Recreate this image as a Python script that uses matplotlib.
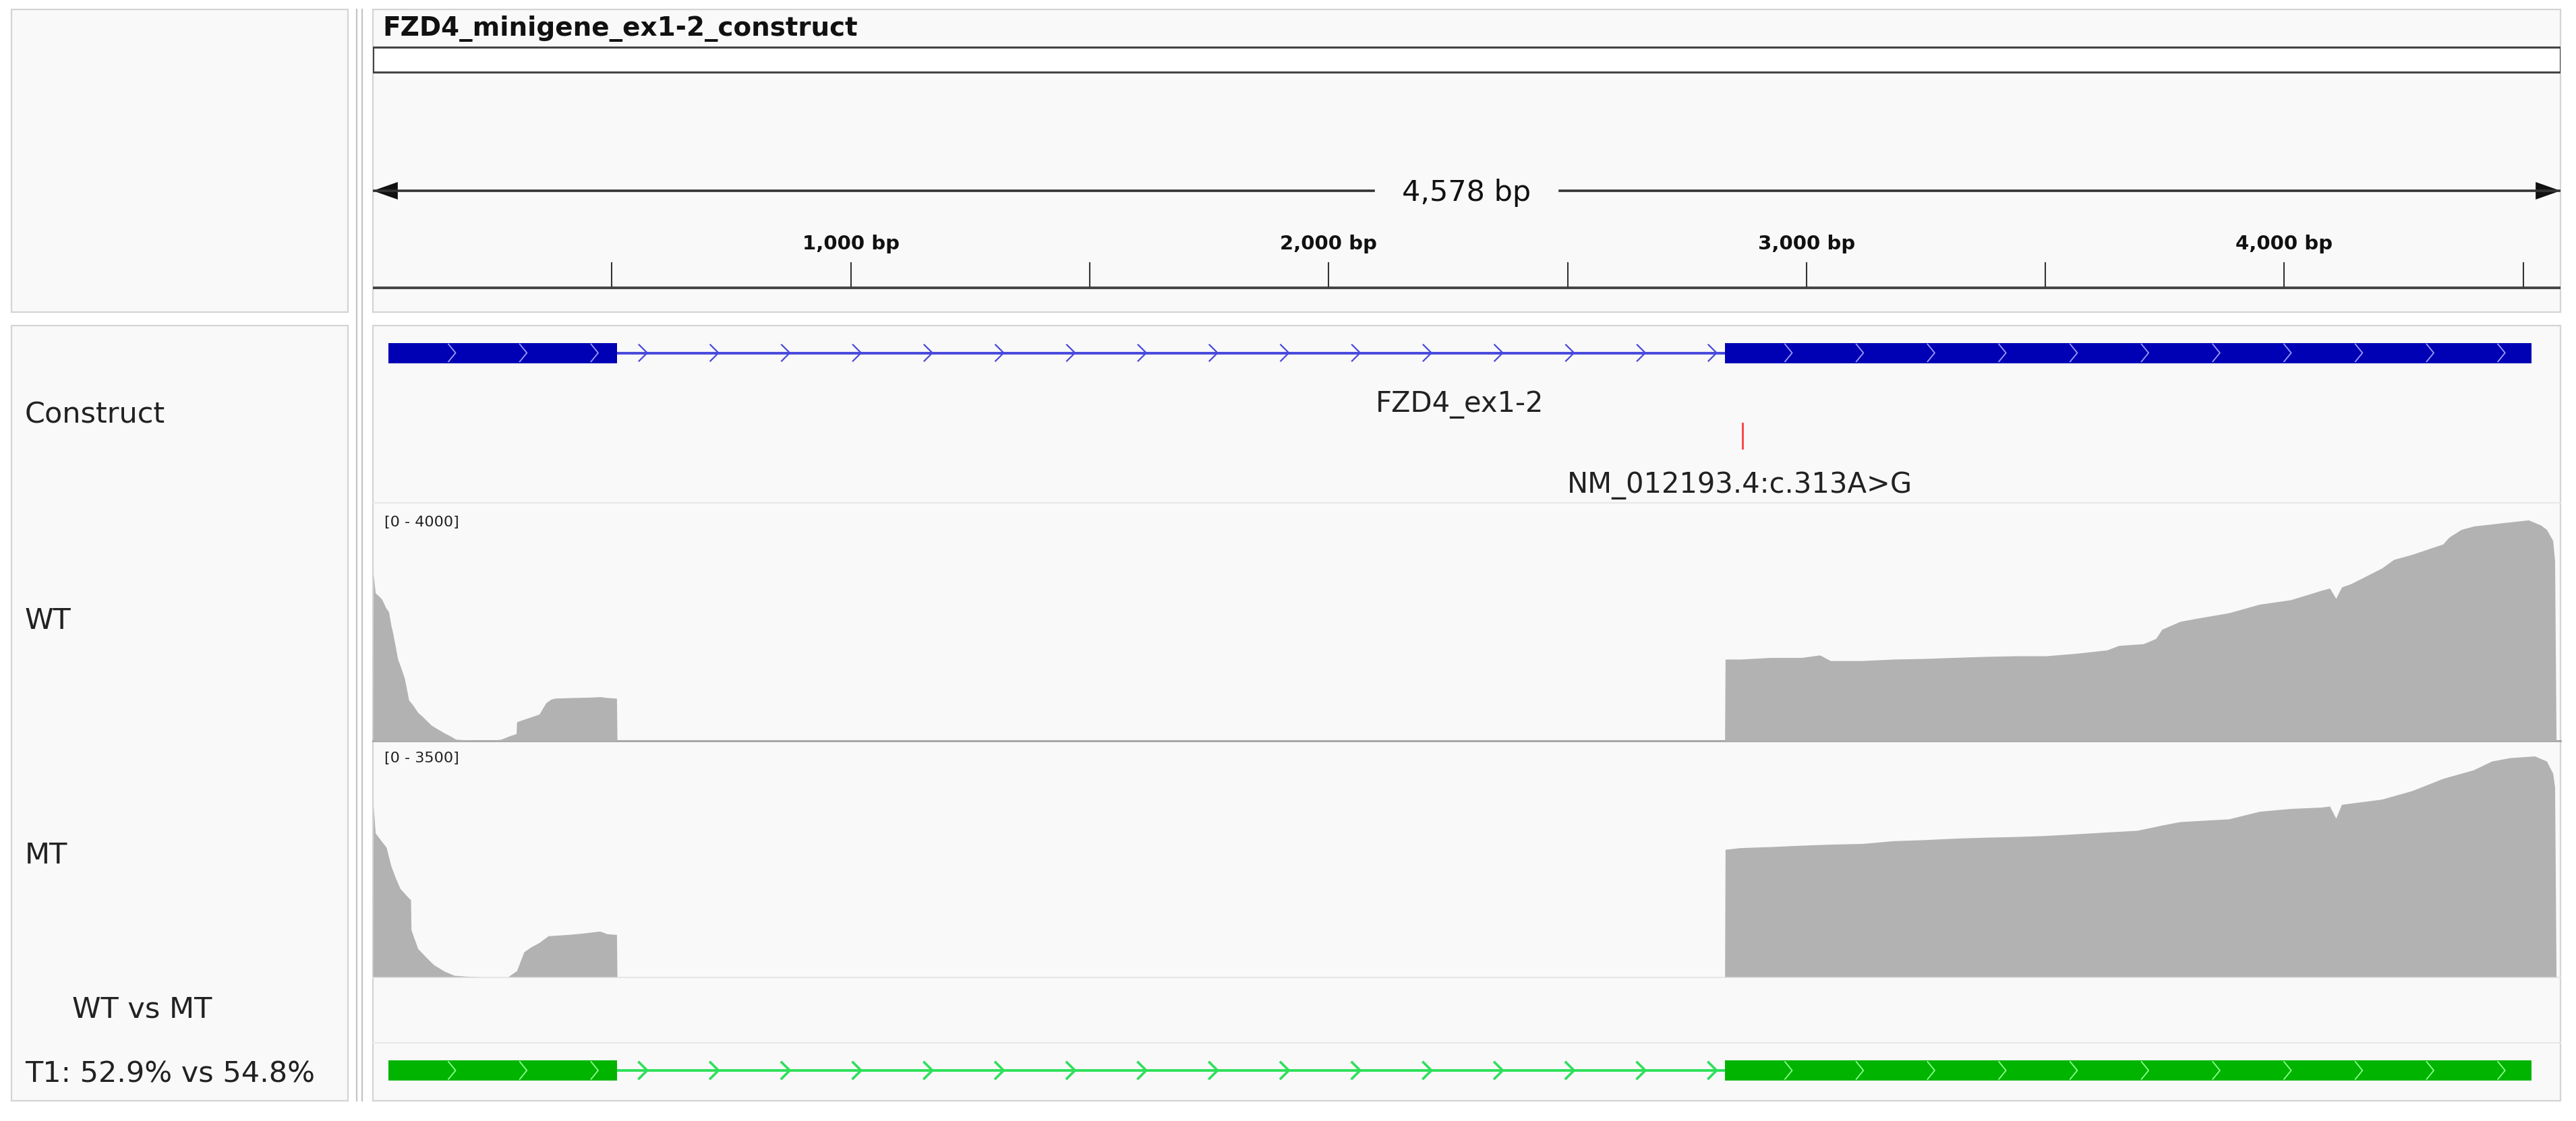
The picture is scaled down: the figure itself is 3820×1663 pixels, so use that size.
import numpy as np
import matplotlib
matplotlib.use('Agg')
import matplotlib.pyplot as plt
from matplotlib.patches import Rectangle

plt.rcParams['font.family'] = ['DejaVu Sans']

W, H = 3820, 1663
REGION_LEN = 4578

# gene model of the construct (bp)
EXONS = [(32, 511), (2829, 4517)]
GENE_NAME = 'FZD4_ex1-2'
VARIANT_POS = 2866
VARIANT_NAME = 'NM_012193.4:c.313A>G'
SEQ_NAME = 'FZD4_minigene_ex1-2_construct'

RULER_TICKS = [500, 1000, 1500, 2000, 2500, 3000, 3500, 4000, 4500]
RULER_LABELS = ['', '1,000 bp', '', '2,000 bp', '', '3,000 bp', '', '4,000 bp', '']

TRACK_NAMES = ['Construct', 'WT', 'MT', 'WT vs MT', 'T1: 52.9% vs 54.8%']
WT_RANGE = 4000
MT_RANGE = 3500

# coverage (bp, depth)
WT_POS = [0, 1, 5, 12, 19, 27, 33, 38, 42, 47, 52, 58, 66, 70, 75, 84, 94, 105, 122, 135, 150,
          162, 174, 200, 231, 250, 268, 285, 300, 301, 315, 330, 348, 356, 362, 372, 381, 420, 450,
          475, 490, 508, 510, 511,
          2829, 2830, 2862, 2925, 2990, 3028, 3050, 3117, 3182, 3245, 3309, 3373, 3437, 3501,
          3565, 3629, 3654, 3705, 3731, 3744, 3782, 3821, 3884, 3948, 4013, 4077, 4095, 4108,
          4120, 4140, 4204, 4229, 4268, 4332, 4345, 4370, 4396, 4459, 4511, 4537, 4549, 4562,
          4566, 4569]
WT_COV = [0, 2820, 2500, 2450, 2390, 2250, 2180, 1950, 1810, 1600, 1380, 1250, 1060, 900, 690, 600,
          480, 400, 265, 200, 130, 80, 25, 12, 5, 10, 25, 80, 120, 320, 360, 400, 450, 560, 640, 700,
          720, 730, 735, 745, 730, 720, 720, 0,
          0, 1380, 1380, 1408, 1408, 1450, 1355, 1355, 1380, 1390, 1408, 1425, 1436, 1436, 1478,
          1535, 1611, 1640, 1727, 1885, 2018, 2076, 2163, 2308, 2383, 2541, 2581, 2407, 2599,
          2657, 2919, 3064, 3152, 3326, 3443, 3571, 3629, 3687, 3733, 3646, 3571, 3385, 3035,
          0]

MT_POS = [0, 1, 5, 15, 28, 38, 47, 57, 75, 79, 80, 94, 110, 127, 150, 170, 200, 231, 283, 301, 316,
          330, 348, 367, 410, 440, 475, 490, 508, 510, 511,
          2829, 2830, 2862, 2925, 2990, 3054, 3117, 3182, 3245, 3309, 3373, 3437, 3501, 3565,
          3629, 3692, 3744, 3782, 3884, 3948, 4013, 4077, 4095, 4108, 4120, 4204, 4268, 4332,
          4396, 4434, 4472, 4524, 4549, 4562, 4566, 4569]
MT_COV = [0, 2550, 2145, 2050, 1930, 1650, 1480, 1315, 1175, 1150, 700, 420, 300, 180, 80, 20, 5, 0, 0,
          90, 370, 440, 510, 610, 630, 650, 680, 640, 630, 630, 0,
          0, 1900, 1925, 1940, 1961, 1977, 1987, 2028, 2043, 2065, 2080, 2090, 2106, 2131,
          2158, 2183, 2261, 2313, 2354, 2467, 2509, 2529, 2545, 2364, 2571, 2648, 2777, 2958,
          3086, 3216, 3267, 3293, 3216, 3035, 2828, 0]

fig = plt.figure(figsize=(W / 100, H / 100), dpi=100)
fig.patch.set_facecolor('white')

bg = fig.add_axes([0, 0, 1, 1])
bg.set_xlim(0, W)
bg.set_ylim(H, 0)
bg.axis('off')


def px_axes(x0, y0, x1, y1):
    ax = fig.add_axes([x0 / W, 1 - y1 / H, (x1 - x0) / W, (y1 - y0) / H])
    ax.patch.set_visible(False)
    ax.axis('off')
    ax.set_xlim(0, REGION_LEN)
    return ax


def panel(x0, y0, x1, y1):
    bg.add_patch(Rectangle((x0, y0), x1 - x0, y1 - y0, facecolor='#f9f9f9',
                           edgecolor='#d4d4d4', lw=1.6))


DX0, DX1 = 553, 3797
panel(17, 14, 516, 463)
panel(DX0, 14, DX1, 463)
panel(17, 483, 516, 1633)
panel(DX0, 483, DX1, 1633)
for xs in (529, 537):
    bg.plot([xs, xs], [14, 1633], color='#c4c4c4', lw=1.6)

# track separators
bg.plot([DX0, DX1], [746, 746], color='#e8e8e8', lw=1.5)
bg.plot([DX0, DX1], [1099, 1099], color='#a8a8a8', lw=2.2)
bg.plot([DX0, DX1], [1450, 1450], color='#e6e6e6', lw=1.5)
bg.plot([DX0, DX1], [1547, 1547], color='#e8e8e8', lw=1.5)

# ---- ruler ----
ruler = px_axes(DX0, 14, DX1, 463)
ruler.set_ylim(463, 14)
ruler.text(20, 43, SEQ_NAME, fontsize=28, fontweight='bold', ha='left', va='center',
           color='#111111')
ruler.add_patch(Rectangle((0, 70), REGION_LEN, 37, facecolor='white', edgecolor='#444444',
                          lw=2.2))
mid = REGION_LEN / 2
ruler.plot([0, mid - 195], [283, 283], color='#333333', lw=2.6)
ruler.plot([mid + 195, REGION_LEN], [283, 283], color='#333333', lw=2.6)
ruler.fill([0, 52, 52], [283, 270, 296], color='#111111', lw=0)
ruler.fill([REGION_LEN, REGION_LEN - 52, REGION_LEN - 52], [283, 270, 296], color='#111111', lw=0)
ruler.text(mid, 286, f'{REGION_LEN:,} bp', fontsize=31, ha='center', va='center', color='#111111')
ruler.plot([0, REGION_LEN], [427, 427], color='#444444', lw=2.8)
for t, lab in zip(RULER_TICKS, RULER_LABELS):
    ruler.plot([t, t], [390, 425], color='#333333', lw=1.5)
    if lab:
        ruler.text(t, 362, lab, fontsize=21, fontweight='bold', ha='center', va='center',
                   color='#111111')


# ---- gene tracks ----
def draw_gene(ax, y_mid, half_h, exon_color, line_color, chev_color, line_chev_lw):
    ax.broken_barh([(s, e - s) for s, e in EXONS], (y_mid - half_h, 2 * half_h),
                   facecolors=exon_color, edgecolor='none')
    for (s0, e0), (s1, e1) in zip(EXONS[:-1], EXONS[1:]):
        ax.plot([e0, s1], [y_mid, y_mid], color=line_color, lw=2.8, solid_capstyle='butt')
        for c in np.arange(e0 + 63, s1 - 10, 149.2):
            ax.plot([c - 17, c, c - 17], [y_mid - half_h + 3, y_mid, y_mid + half_h - 3],
                    color=line_color, lw=line_chev_lw)
    for s, e in EXONS:
        for c in np.arange(s + 141, e - 10, 149.2):
            ax.plot([c - 15, c, c - 15], [y_mid - half_h + 2, y_mid, y_mid + half_h - 2],
                    color=chev_color, lw=1.3)


construct = px_axes(DX0, 483, DX1, 746)
construct.set_ylim(746, 483)
draw_gene(construct, 523.5, 15, '#0000b4', '#4848dc', '#9a9aff', 1.6)
construct.text((EXONS[0][0] + EXONS[-1][1]) / 2, 600, GENE_NAME, fontsize=30, ha='center',
               va='center', color='#222222')
construct.plot([VARIANT_POS, VARIANT_POS], [628, 665], color='#ff3b3b', lw=2)
construct.text(VARIANT_POS - 6, 720, VARIANT_NAME, fontsize=30, ha='center', va='center',
               color='#222222')

green = px_axes(DX0, 1547, DX1, 1633)
green.set_ylim(1633, 1547)
draw_gene(green, 1588, 15, '#00b400', '#2ee05a', '#8cff8c', 2.6)

# ---- coverage tracks ----
wt = px_axes(DX0, 748, DX1, 1099)
wt.set_ylim(0, WT_RANGE)
wt.fill_between(WT_POS, WT_COV, color='#b2b2b2', lw=0)

mt = px_axes(DX0, 1101, DX1, 1449)
mt.set_ylim(0, MT_RANGE)
mt.fill_between(MT_POS, MT_COV, color='#b2b2b2', lw=0)

bg.text(570, 775, f'[0 - {WT_RANGE}]', fontsize=16, ha='left', va='center', color='#222222')
bg.text(570, 1125, f'[0 - {MT_RANGE}]', fontsize=16, ha='left', va='center', color='#222222')

# ---- track names ----
name_pos = [(37, 615), (37, 921), (37, 1269), (107, 1498), (37, 1593)]
for name, (x, y) in zip(TRACK_NAMES, name_pos):
    bg.text(x, y, name, fontsize=31, ha='left', va='center', color='#222222')

fig.savefig('out.png', dpi=100, facecolor='white')
